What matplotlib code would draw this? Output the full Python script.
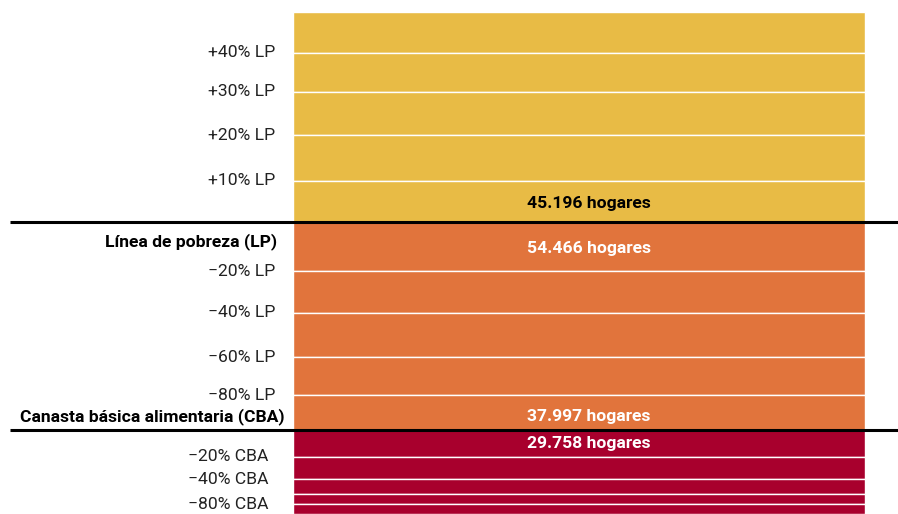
import matplotlib.pyplot as plt
import numpy as np

plt.rcParams['font.family'] = ['Roboto', 'DejaVu Sans']

# Hogares por tramo de ingreso (de arriba hacia abajo)
hogares_sobre_lp = [45100, 42900, 48000, 49900, 45196]
hogares_lp_cba = [54466, 45900, 48700, 41800, 37997]
hogares_bajo_cba = [29758, 24500, 16500, 11000, 11000]

# Etiquetas de los umbrales (borde inferior de cada tramo)
umbrales_sobre_lp = ['+40% LP', '+30% LP', '+20% LP', '+10% LP']
umbrales_lp_cba = ['−20% LP', '−40% LP', '−60% LP', '−80% LP']
umbrales_bajo_cba = ['−20% CBA', '−40% CBA', '', '−80% CBA']

linea_lp = 'Línea de pobreza (LP)'
linea_cba = 'Canasta básica alimentaria (CBA)'

colores = ['#E8BB45', '#E1743C', '#A8002D']

grupos = [hogares_sobre_lp, hogares_lp_cba, hogares_bajo_cba]
total = sum(sum(g) for g in grupos)

W, H = 898, 514
fig = plt.figure(figsize=(W / 100, H / 100), dpi=100)
top_px = 11.7
ax = fig.add_axes([0, 0, 1, (H - top_px) / H])
ax.set_xlim(0, W)
ax.set_ylim(0, total)
ax.axis('off')

bar_x0, bar_x1 = 293, 865
bar_c = (bar_x0 + bar_x1) / 2
bar_w = bar_x1 - bar_x0

# Barras apiladas, de arriba hacia abajo
techo = total
limites = []   # borde superior de cada grupo
bordes = []    # bordes inferiores de cada tramo, por grupo
for g, col in zip(grupos, colores):
    limites.append(techo)
    b = []
    for v in g:
        ax.bar(bar_c, v, bottom=techo - v, width=bar_w, color=col,
               edgecolor='white', linewidth=1.0)
        techo -= v
        b.append(techo)
    bordes.append(b)

y_lp = limites[1]
y_cba = limites[2]

# Líneas negras de LP y CBA
for y in (y_lp, y_cba):
    ax.plot([10, W], [y, y], color='black', linewidth=2.2, solid_capstyle='butt',
            zorder=5, clip_on=False)

fs = 12.6
txt_col = '#222222'
for lab, y in zip(umbrales_sobre_lp, bordes[0]):
    ax.text(275, y, lab, ha='right', va='center', fontsize=fs, color=txt_col)
for lab, y in zip(umbrales_lp_cba, bordes[1]):
    ax.text(275, y, lab, ha='right', va='center', fontsize=fs, color=txt_col)
for lab, y in zip(umbrales_bajo_cba, bordes[2]):
    if lab:
        ax.text(268, y, lab, ha='right', va='center', fontsize=fs, color=txt_col)

ax.annotate(linea_lp, xy=(277, y_lp), xytext=(0, -14.4), textcoords='offset points',
            ha='right', va='center', fontsize=fs, fontweight='bold', color='black')
ax.annotate(linea_cba, xy=(285, y_cba), xytext=(0, 9.5), textcoords='offset points',
            ha='right', va='center', fontsize=fs, fontweight='bold', color='black')

# Cantidad de hogares junto a cada línea
def hogares(v):
    return f'{v:,}'.replace(',', '.') + ' hogares'

etiquetas = [
    (hogares_sobre_lp[-1], y_lp, 12.8, 'black'),
    (hogares_lp_cba[0], y_lp, -19.0, 'white'),
    (hogares_lp_cba[-1], y_cba, 9.7, 'white'),
    (hogares_bajo_cba[0], y_cba, -9.6, 'white'),
]
for v, y, dy, c in etiquetas:
    ax.annotate(hogares(v), xy=(527, y), xytext=(0, dy), textcoords='offset points',
                ha='left', va='center', fontsize=fs, fontweight='bold', color=c, zorder=6)

fig.savefig('out.png', dpi=100, facecolor='white')
